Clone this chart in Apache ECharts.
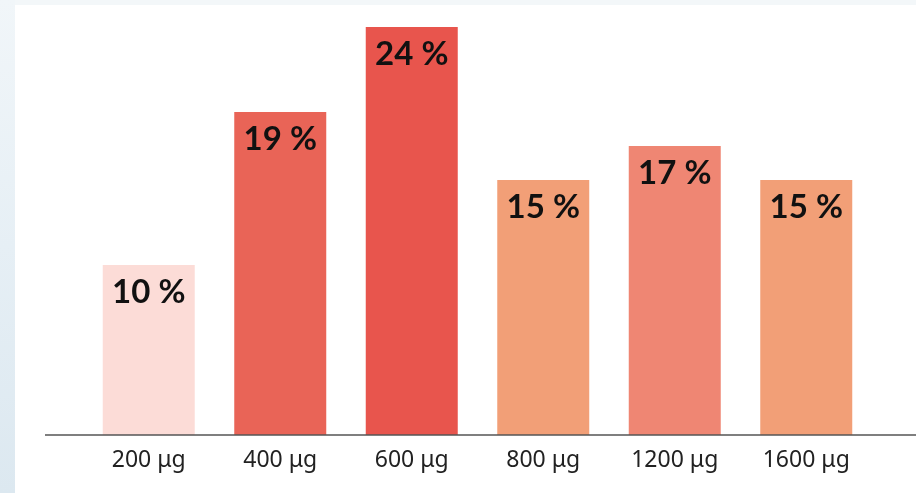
<!DOCTYPE html>
<html>
<head>
<meta charset="utf-8">
<script src="https://cdn.jsdelivr.net/npm/echarts@6/dist/echarts.min.js"></script>
<style>
  html, body { margin: 0; padding: 0; width: 916px; height: 493px; overflow: hidden; }
  body { position: relative; background: #f3f7f9; }
  #side { position: absolute; left: 0; top: 0; width: 15px; height: 493px;
          background: linear-gradient(to bottom, #f1f6f9 0%, #e6eff5 50%, #dce8f0 100%); }
  #chart { position: absolute; left: 15px; top: 5px; width: 901px; height: 488px; background: #ffffff; }
</style>
</head>
<body>
<div id="side"></div>
<div id="chart"></div>
<script>
// Dose categories and share of respondents per dose
const doses = ['200 μg', '400 μg', '600 μg', '800 μg', '1200 μg', '1600 μg'];
const shares = [10, 19, 24, 15, 17, 15];
const barColors = ['#fcdcd7', '#e96457', '#e8554d', '#f29f77', '#ef8673', '#f29f77'];

const chart = echarts.init(document.getElementById('chart'), null, { renderer: 'canvas' });

const option = {
  animation: false,
  backgroundColor: '#ffffff',
  grid: { left: 68, right: 44, top: 22, bottom: 58, containLabel: false },
  xAxis: {
    type: 'category',
    data: doses,
    axisLine: { show: false },
    axisTick: { show: false },
    axisLabel: {
      color: '#222222',
      fontFamily: 'Noto Sans',
      fontSize: 23,
      margin: 14
    }
  },
  yAxis: {
    type: 'value',
    min: 0,
    max: 24,
    show: false,
    splitLine: { show: false }
  },
  series: [{
    type: 'bar',
    barWidth: 92,
    data: shares.map((v, i) => ({ value: v, itemStyle: { color: barColors[i] } })),
    label: {
      show: true,
      position: 'insideTop',
      distance: 11,
      formatter: p => p.value + ' %',
      color: '#111111',
      fontFamily: 'Lato',
      fontWeight: 'bold',
      fontSize: 33
    }
  }]
};

chart.setOption(option);

// Baseline rule spanning past the plot area, placed at the value-axis zero
const baseY = chart.convertToPixel({ yAxisIndex: 0 }, 0);
chart.setOption({
  graphic: [{
    type: 'line',
    shape: { x1: 30, y1: baseY, x2: 901, y2: baseY },
    style: { stroke: '#555555', lineWidth: 1.5 },
    z: 10
  }]
});
</script>
</body>
</html>
